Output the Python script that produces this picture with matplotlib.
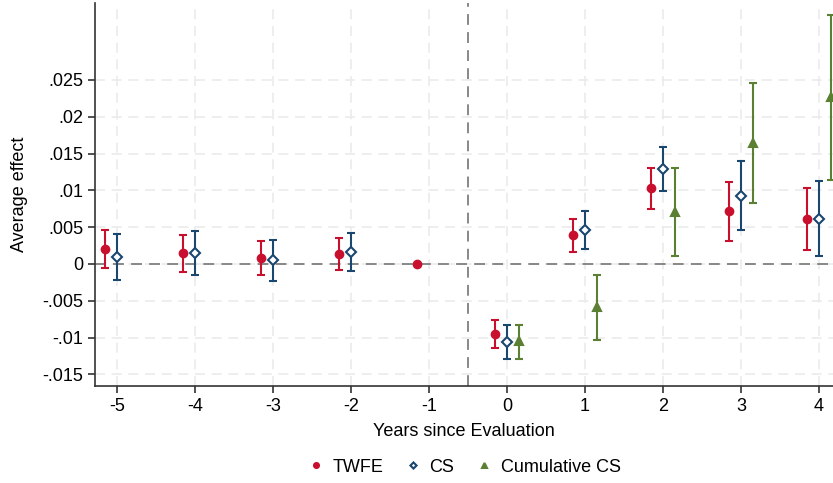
import numpy as np
import matplotlib
matplotlib.use('Agg')
import matplotlib.pyplot as plt

plt.rcParams['font.family'] = ['Liberation Sans', 'DejaVu Sans']

# event time
years_pre = [-5, -4, -3, -2, -1]
years_post = [0, 1, 2, 3, 4]
years = years_pre + years_post

# TWFE estimates
twfe = [0.00204, 0.00145, 0.00082, 0.00136, 0.0, -0.00951, 0.00394, 0.01028, 0.00716, 0.00616]
twfe_lo = [-0.00054, -0.00105, -0.0015, -0.00082, 0.0, -0.01146, 0.00167, 0.00747, 0.00317, 0.00194]
twfe_hi = [0.00466, 0.0039, 0.00317, 0.00357, 0.0, -0.00757, 0.00616, 0.01304, 0.0111, 0.01037]

# Callaway-Sant'Anna estimates (no -1)
cs_years = [-5, -4, -3, -2, 0, 1, 2, 3, 4]
cs = [0.00095, 0.00154, 0.0005, 0.00163, -0.01055, 0.00466, 0.0129, 0.00928, 0.00616]
cs_lo = [-0.00222, -0.00154, -0.00235, -0.00095, -0.01287, 0.00208, 0.00992, 0.00462, 0.00104]
cs_hi = [0.00412, 0.00453, 0.0033, 0.00425, -0.00829, 0.00724, 0.01585, 0.01404, 0.01132]

# cumulative CS (post only)
cum = [-0.0104, -0.0058, 0.00707, 0.01644, 0.02273]
cum_lo = [-0.0129, -0.01033, 0.00104, 0.00825, 0.01141]
cum_hi = [-0.0083, -0.00145, 0.01304, 0.02463, 0.03383]

red = '#C8102E'
navy = '#1A476F'
green = '#5B7F33'

fig = plt.figure(figsize=(8.33, 4.83), dpi=100)
ax = fig.add_axes([0.114, 0.2008, 0.886, 0.793])

for v in np.arange(-0.015, 0.0251, 0.005):
    ax.axhline(v, color='#EBEBEB', lw=1.2, ls=(0, (6, 4)), zorder=0)
for x in years:
    ax.axvline(x, color='#EBEBEB', lw=1.2, ls=(0, (6, 4)), zorder=0)
ax.axhline(0, color='#7F7F7F', lw=1.3, ls=(0, (6, 4)), zorder=1)
ax.axvline(-0.5, color='#7F7F7F', lw=1.3, ls=(0, (6, 4)), zorder=1)

def draw(xs, y, lo, hi, color, marker, face, off, label, ms):
    xs = np.array(xs) + off
    y = np.array(y)
    err = [y - np.array(lo), np.array(hi) - y]
    ax.errorbar(xs, y, yerr=err, fmt='none', ecolor=color, elinewidth=1.5,
                capsize=3, capthick=1.5, zorder=3)
    ax.plot(xs, y, ls='none', marker=marker, color=color, mfc=face, mec=color,
            mew=1.5, ms=ms, zorder=4, label=label)

draw(years, twfe, twfe_lo, twfe_hi, red, 'o', red, -0.15, 'TWFE', 5.5)
draw(cs_years, cs, cs_lo, cs_hi, navy, 'D', 'white', 0.0, 'CS', 4.8)
draw(years_post, cum, cum_lo, cum_hi, green, '^', green, 0.15, 'Cumulative CS', 5.5)

ax.set_xlim(-5.28, 4.18)
ax.set_ylim(-0.01658, 0.03546)
ax.set_xticks(years)
ax.set_xticklabels([str(y) for y in years])
yt = [-0.015, -0.01, -0.005, 0, 0.005, 0.01, 0.015, 0.02, 0.025]
ax.set_yticks(yt)
ax.set_yticklabels(['-.015', '-.01', '-.005', '0', '.005', '.01', '.015', '.02', '.025'])
ax.tick_params(axis='both', labelsize=13, length=5, width=1.2, color='#333333', direction='out')
ax.spines['top'].set_visible(False)
ax.spines['right'].set_visible(False)
for s in ['left', 'bottom']:
    ax.spines[s].set_color('#333333')
    ax.spines[s].set_linewidth(1.2)

ax.set_xlabel('Years since Evaluation', fontsize=13, labelpad=6)
ax.set_ylabel('Average effect', fontsize=13, labelpad=10)

handles, labels = ax.get_legend_handles_labels()
leg = fig.legend(handles, labels, loc='center', bbox_to_anchor=(0.557, 0.033), ncol=3,
                 frameon=False, fontsize=13, handletextpad=0.4, columnspacing=1.15,
                 markerscale=0.65, handlelength=1.0)

fig.savefig('out.png', dpi=100)
